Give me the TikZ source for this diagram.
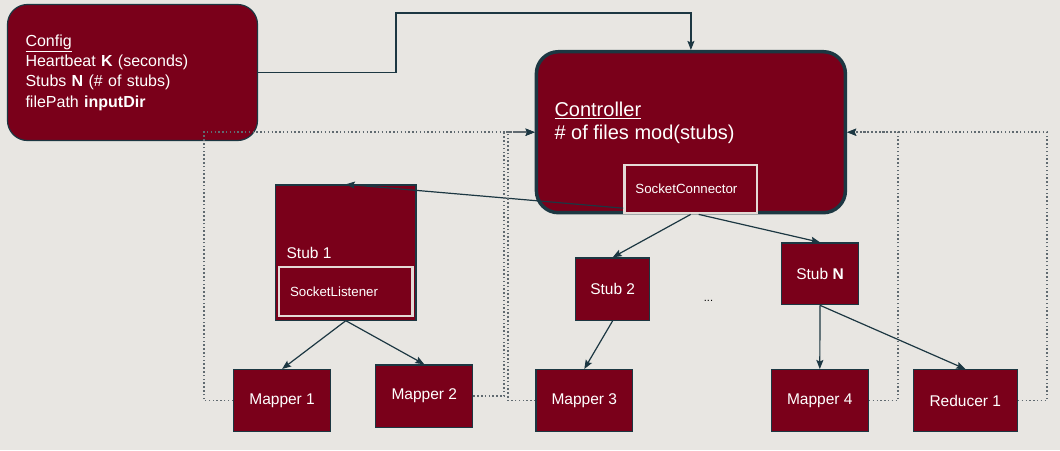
\documentclass[tikz,border=0pt]{standalone}
\usepackage{fontspec}
\setmainfont{Liberation Sans}
\usepackage[]{color}
\usepackage{tikz}
\usetikzlibrary{arrows.meta}
\definecolor{wine}{RGB}{122,0,26}
\definecolor{slate}{RGB}{28,55,66}
\definecolor{paper}{RGB}{232,230,226}
\definecolor{pale}{RGB}{228,218,214}
\definecolor{dotgray}{RGB}{96,106,112}

\begin{document}
\begin{tikzpicture}[x=1pt, y=-1pt,
  box/.style={draw=slate, line width=1.2pt, fill=wine, text=white, inner sep=0pt, font=\fontsize{15.5}{18}\selectfont},
  sock/.style={draw=pale, line width=2.4pt, fill=wine, text=white, align=left, inner ysep=0pt, inner xsep=11pt, font=\fontsize{13.3}{16}\selectfont},
  conn/.style={draw=slate, line width=1.2pt, -{Stealth[length=9pt,width=7pt,inset=1.5pt]}},
  back/.style={draw=dotgray, line width=1.5pt, dash pattern=on 1.5pt off 2.3pt, -{Stealth[length=9pt,width=7pt,inset=1.5pt,color=slate]}}]
\fill[paper] (0,0) rectangle (1060,450);
\useasboundingbox (0,0) rectangle (1060,450);

\node[box, rounded corners=20pt, minimum width=250pt, minimum height=136pt, text width=214pt, inner xsep=18pt, align=left, font=\fontsize{16}{20.3}\selectfont] (config) at (132.5,72.5)
  {\underline{Config}\\ Heartbeat \textbf{K} (seconds)\\ Stubs \textbf{N} (\# of stubs)\\ filePath \textbf{inputDir}};
\node[box, rounded corners=22pt, line width=3.5pt, minimum width=309pt, minimum height=161pt] (ctrl) at (690.9,132.2) {};
\node[anchor=west, inner sep=0pt, text=white, align=left, font=\fontsize{20}{23.3}\selectfont] (ctrltext) at (554.3,123)
  {\underline{Controller}\\ \# of files mod(stubs)};
\node[sock, minimum width=132.6pt, minimum height=48pt, text width=110.6pt] (sc) at (690.7,189.2) {SocketConnector};

\node[box, minimum width=140.4pt, minimum height=135.2pt] (stub1) at (345.8,252.5) {};
\node[anchor=west, inner sep=0pt, text=white, font=\fontsize{15.5}{18}\selectfont] (stub1text) at (286.4,252.5) {Stub 1};
\node[sock, minimum width=133.6pt, minimum height=49pt, text width=111.6pt] (sl) at (345.8,291.7) {SocketListener};
\node[box, minimum width=74.2pt, minimum height=62.2pt] (stub2) at (612.7,289) {Stub 2};
\node[box, minimum width=77.4pt, minimum height=61.8pt] (stubN) at (820,273.8) {Stub \textbf{N}};
\node[font=\fontsize{11}{13}\selectfont, text=black] (gap) at (708.5,301) {...};

\node[box, minimum width=97pt, minimum height=61.8pt] (m1) at (282.1,400.5) {Mapper 1};
\node[box, minimum width=97pt, minimum height=62.2pt] (m2) at (424.3,396) {Mapper 2};
\node[box, minimum width=96.6pt, minimum height=61.8pt] (m3) at (584.3,400.5) {Mapper 3};
\node[box, minimum width=97pt, minimum height=61.8pt] (m4) at (819.8,400.5) {Mapper 4};
\node[box, minimum width=104pt, minimum height=61.8pt] (red1) at (965.3,400.5) {Reducer 1};

\coordinate (top) at (396,13);
\draw[conn] (config.east) -| (top) -| (ctrl.north);
\draw[conn] ([yshift=-19pt]sc.west) -- (stub1.north);
\draw[conn] (sc.south) -- (stub2.north);
\draw[conn] ([xshift=8pt]sc.south) -- (stubN.north);
\draw[conn] (stub1.south) -- (m1.north);
\draw[conn] (stub1.south) -- (m2.north);
\draw[conn] (stub2.south) -- (m3.north);
\draw[conn] (stubN.south) -- (m4.north);
\draw[conn] (stubN.south) -- (red1.north);

\draw[back] (m1.west) -| (204,132.2) -- (ctrl.west);
\draw[back] (m2.east) -| (504,132.2) -- (ctrl.west);
\draw[back] (m3.west) -| (508,132.2) -- (ctrl.west);
\draw[back] (m4.east) -| (898,132.2) -- (ctrl.east);
\draw[back] (red1.east) -| (1047,132.2) -- (ctrl.east);
\end{tikzpicture}
\end{document}
